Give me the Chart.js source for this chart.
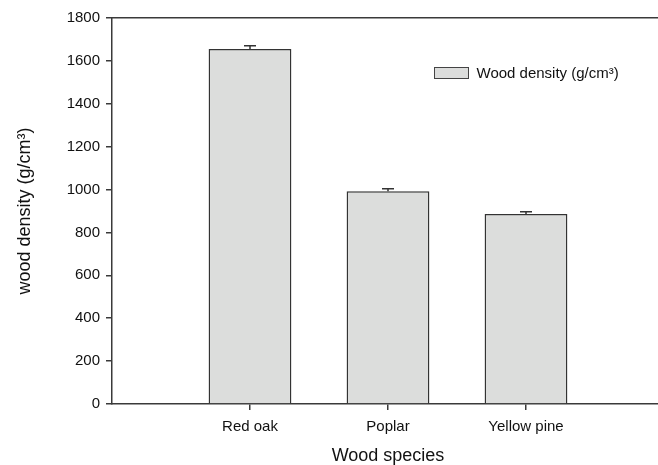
<!DOCTYPE html>
<html>
<head>
<meta charset="utf-8">
<script src="https://cdn.jsdelivr.net/npm/chart.js@4.4.0/dist/chart.umd.min.js"></script>
<style>
  html, body { margin: 0; padding: 0; background: #fff; overflow: hidden; }
  #wrap { width: 664px; height: 465px; }
</style>
</head>
<body>
<div id="wrap"><canvas id="c" width="664" height="465"></canvas></div>
<script>
// data
const species = ['Red oak', 'Poplar', 'Yellow pine'];
const density = [1655, 992, 886];
const densityErr = [16, 12, 10];
const yTicks = [0, 200, 400, 600, 800, 1000, 1200, 1400, 1600, 1800];

const FONT = "'Liberation Sans', Arial, sans-serif";
const AXIS = '#3a3a3a';

// upward-only error bars (SigmaPlot style)
const errorBars = {
  id: 'errorBars',
  afterDatasetsDraw(chart) {
    const { ctx, scales: { x, y } } = chart;
    ctx.save();
    ctx.strokeStyle = '#333';
    ctx.lineWidth = 1.5;
    density.forEach((v, i) => {
      const px = Math.round(x.getPixelForValue(i + 1));
      const top = y.getPixelForValue(v);
      const tip = y.getPixelForValue(v + densityErr[i]);
      ctx.beginPath();
      ctx.moveTo(px, top);
      ctx.lineTo(px, tip);
      ctx.moveTo(px - 6, tip);
      ctx.lineTo(px + 6, tip);
      ctx.stroke();
    });
    ctx.restore();
  }
};

// legend box inside the plot, upper right
const boxLegend = {
  id: 'boxLegend',
  afterDraw(chart) {
    const { ctx, chartArea: a } = chart;
    const ds = chart.data.datasets[0];
    const bx = Math.round(a.left + (a.right - a.left) * 0.5835) + 0.5;
    const by = a.top + 49.5;
    ctx.save();
    ctx.fillStyle = ds.backgroundColor;
    ctx.strokeStyle = '#444';
    ctx.lineWidth = 1;
    ctx.fillRect(bx, by, 34, 11);
    ctx.strokeRect(bx, by, 34, 11);
    ctx.fillStyle = '#111';
    ctx.font = '15px ' + FONT;
    ctx.textBaseline = 'middle';
    ctx.fillText(ds.label, bx + 42, by + 6);
    ctx.restore();
  }
};

new Chart(document.getElementById('c'), {
  type: 'bar',
  data: {
    datasets: [{
      label: 'Wood density (g/cm³)',
      data: species.map((s, i) => ({ x: i + 1, y: density[i] })),
      backgroundColor: '#dcdddc',
      borderColor: '#333333',
      borderWidth: 1.5,
      barPercentage: 0.6,
      categoryPercentage: 1
    }]
  },
  options: {
    responsive: false,
    animation: false,
    layout: { padding: 0 },
    plugins: { legend: { display: false }, tooltip: { enabled: false } },
    scales: {
      x: {
        type: 'linear',
        min: 0,
        max: 4,
        offset: false,
        afterBuildTicks: s => { s.ticks = species.map((n, i) => ({ value: i + 1 })); },
        afterFit: s => { s.height = 61; },
        border: { color: AXIS, width: 1.5 },
        grid: { offset: false, drawOnChartArea: false, tickLength: 6, color: AXIS, lineWidth: 1.5 },
        ticks: {
          padding: 8,
          color: '#111',
          font: { family: FONT, size: 15 },
          callback: v => species[v - 1] || ''
        },
        title: {
          display: true,
          text: 'Wood species',
          color: '#111',
          font: { family: FONT, size: 18, lineHeight: 1 },
          padding: { top: 0, bottom: 0 }
        }
      },
      xTop: {
        type: 'linear',
        position: 'top',
        min: 0,
        max: 4,
        offset: false,
        afterFit: s => { s.height = 18; },
        border: { color: AXIS, width: 1.5 },
        grid: { offset: false, drawOnChartArea: false, drawTicks: false },
        ticks: { display: false }
      },
      y: {
        min: 0,
        max: 1800,
        afterBuildTicks: s => { s.ticks = yTicks.map(v => ({ value: v })); },
        afterFit: s => { s.width = 112; },
        border: { color: AXIS, width: 1.5 },
        grid: { drawOnChartArea: false, tickLength: 6, color: AXIS, lineWidth: 1.5 },
        ticks: {
          padding: 6,
          color: '#111',
          font: { family: FONT, size: 15 },
          callback: v => String(v)
        },
        title: {
          display: true,
          text: 'wood density (g/cm³)',
          color: '#111',
          font: { family: FONT, size: 18, lineHeight: 1 },
          padding: { top: 16, bottom: 0 }
        }
      }
    }
  },
  plugins: [errorBars, boxLegend]
});
</script>
</body>
</html>
